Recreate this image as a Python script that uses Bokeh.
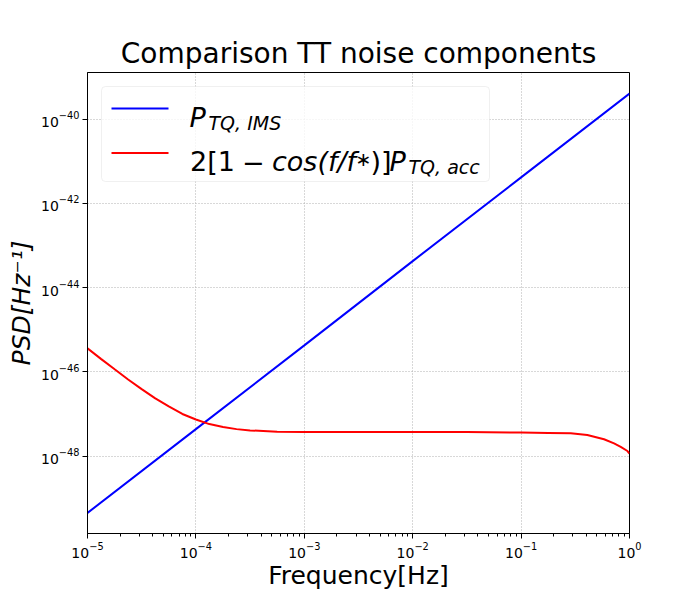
from bokeh.plotting import figure
from bokeh.models import Range1d, FixedTicker, LogTickFormatter, BoxAnnotation, Label
from bokeh.embed import file_html
from bokeh.resources import INLINE

# ---- data ----
freq_ims = [1e-5, 1e-4, 1e-3, 1e-2, 1e-1, 1.0]
psd_ims = [4.47e-50, 4.37e-48, 4.27e-46, 4.27e-44, 4.17e-42, 4.07e-40]

freq_acc = [1.0e-5, 1.33e-5, 1.78e-5, 2.37e-5, 3.16e-5, 4.22e-5, 5.62e-5, 7.50e-5,
            1.0e-4, 1.33e-4, 1.78e-4, 2.37e-4, 3.16e-4, 5.62e-4, 1.0e-3, 3.16e-3,
            1.0e-2, 3.16e-2, 0.1, 0.178, 0.287, 0.408, 0.582, 0.720, 0.830, 0.957, 1.0]
psd_acc = [3.63e-46, 2.04e-46, 1.15e-46, 6.61e-47, 3.89e-47, 2.34e-47, 1.51e-47, 1.00e-47,
           7.41e-48, 5.75e-48, 4.90e-48, 4.37e-48, 4.07e-48, 3.80e-48, 3.72e-48, 3.72e-48,
           3.72e-48, 3.72e-48, 3.63e-48, 3.55e-48, 3.47e-48, 3.16e-48, 2.51e-48, 2.00e-48,
           1.66e-48, 1.32e-48, 1.15e-48]

x_ticks = [1e-5, 1e-4, 1e-3, 1e-2, 1e-1, 1.0]
y_ticks = [1e-48, 1e-46, 1e-44, 1e-42, 1e-40]
x_minor = [m * d for d in x_ticks[:-1] for m in range(2, 10)]

title_text = "Comparison TT noise components"
x_label = "Frequency[Hz]"
y_label = "PSD[Hz\u207b\u00b9]"

FONT = "DejaVu Sans"

p = figure(width=684, height=592, x_axis_type="log", y_axis_type="log",
           x_range=Range1d(1e-5, 1.0), y_range=Range1d(1.45e-50, 1.29e-39),
           output_backend="svg", toolbar_location=None,
           min_border_left=87, min_border_right=55, min_border_top=72, min_border_bottom=59,
           title=title_text)

p.background_fill_color = "white"
p.border_fill_color = "white"
p.outline_line_color = "black"
p.outline_line_width = 1

p.title.text_font = FONT
p.title.text_font_style = "normal"
p.title.text_font_size = "28px"
p.title.align = "center"
p.title.text_color = "black"
p.title.standoff = 6

xt = FixedTicker(ticks=x_ticks, minor_ticks=x_minor)
yt = FixedTicker(ticks=y_ticks, minor_ticks=[])
p.xaxis.ticker = xt
p.yaxis.ticker = yt
p.xgrid.ticker = FixedTicker(ticks=x_ticks, minor_ticks=[])
p.ygrid.ticker = FixedTicker(ticks=y_ticks, minor_ticks=[])
p.xaxis.formatter = LogTickFormatter()
p.yaxis.formatter = LogTickFormatter()

for ax in (p.xaxis, p.yaxis):
    ax.axis_line_color = "black"
    ax.axis_line_width = 1
    ax.major_tick_line_color = "black"
    ax.minor_tick_line_color = "black"
    ax.major_tick_out = 5
    ax.major_tick_in = 0
    ax.minor_tick_out = 3
    ax.minor_tick_in = 0
    ax.major_label_text_font = FONT
    ax.major_label_text_font_size = "14px"
    ax.major_label_text_color = "black"
    ax.major_label_standoff = 3
    ax.axis_label_text_font = FONT
    ax.axis_label_text_font_size = "25px"
    ax.axis_label_text_color = "black"

p.xaxis.axis_label = x_label
p.xaxis.axis_label_text_font_style = "normal"
p.xaxis.axis_label_standoff = 0
p.yaxis.axis_label = y_label
p.yaxis.axis_label_text_font_style = "italic"
p.yaxis.axis_label_standoff = 2

for g in (p.xgrid, p.ygrid):
    g.grid_line_color = "#b0b0b0"
    g.grid_line_dash = "1 2"
    g.grid_line_width = 1

p.line(freq_ims, psd_ims, line_color="blue", line_width=2)
p.line(freq_acc, psd_acc, line_color="red", line_width=2)

# ---- legend drawn by hand (mathtext-like labels with subscripts) ----
p.add_layout(BoxAnnotation(left=14, right=402, top=447, bottom=352,
                           left_units="screen", right_units="screen",
                           top_units="screen", bottom_units="screen",
                           fill_color="white", fill_alpha=0.8,
                           line_color="#cccccc", line_width=1, border_radius=4))
p.add_layout(BoxAnnotation(left=24, right=81, top=426, bottom=424,
                           left_units="screen", right_units="screen",
                           top_units="screen", bottom_units="screen",
                           fill_color="blue", fill_alpha=1, line_alpha=0))
p.add_layout(BoxAnnotation(left=24, right=81, top=381.5, bottom=379.5,
                           left_units="screen", right_units="screen",
                           top_units="screen", bottom_units="screen",
                           fill_color="red", fill_alpha=1, line_alpha=0))

def lab(txt, x, y, size, style):
    p.add_layout(Label(x=x, y=y, x_units="screen", y_units="screen", text=txt,
                       text_font=FONT, text_font_size=size, text_font_style=style,
                       text_color="black", text_align="left", text_baseline="alphabetic"))

# blue entry
lab("P", 102, 416, "27px", "italic")
lab("TQ, IMS", 121, 411, "19px", "italic")
# red entry
lab("2[1", 102.5, 372, "27px", "normal")
lab("\u2212", 154.5, 372, "27px", "normal")
lab("cos(f/f", 184.5, 372, "27px", "italic")
lab("\u2217", 268, 375, "19px", "normal")
lab(")]", 283, 372, "27px", "normal")
lab("P", 302, 372, "27px", "italic")
lab("TQ, acc", 321, 367, "19px", "italic")

open("out.html", "w").write(file_html(p, INLINE))
